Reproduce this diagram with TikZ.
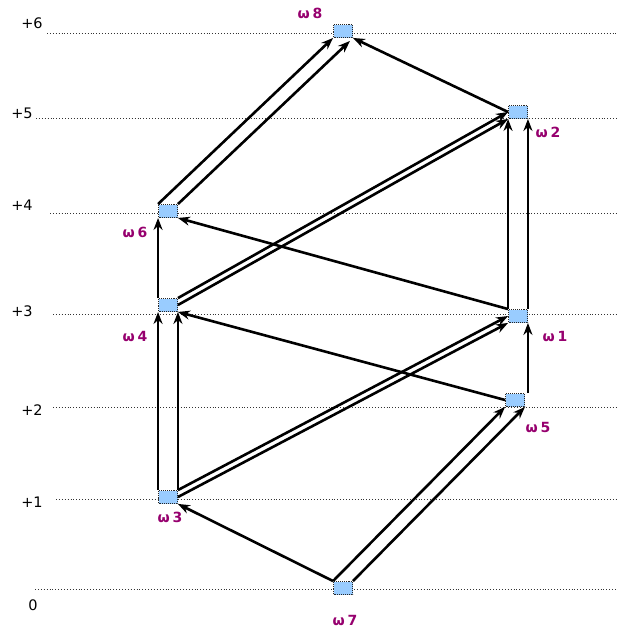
\documentclass[tikz,border=0pt]{standalone}
\usepackage{fontspec}
\setmainfont{DejaVu Sans}
\newfontfamily\omegafont{DejaVu Sans}
\usetikzlibrary{arrows.meta}
\definecolor{nodefill}{RGB}{153,204,255}
\definecolor{lblpurple}{RGB}{150,0,110}
\newcommand{\wl}[1]{ω\kern3pt#1}
\tikzset{
  state/.style={draw=black!85, densely dotted, line width=0.9pt, fill=nodefill, minimum width=19pt, minimum height=13pt, inner sep=0pt},
  level/.style={black!80, dotted, line width=0.9pt},
  levellbl/.style={font=\fontsize{14.5}{14.5}\selectfont, text=black, inner sep=0pt},
  wlbl/.style={font=\omegafont\bfseries\fontsize{14}{14}\selectfont, text=lblpurple, inner sep=0pt},
  arr/.style={line width=2.6pt, -{Stealth[length=12pt,width=9pt]}, black}
}
\begin{document}
\begin{tikzpicture}[x=1pt,y=-1pt]
\useasboundingbox (0,0) rectangle (619,629);
% level lines
\coordinate (l6a) at (47,33);  \coordinate (l6b) at (617,33);
\coordinate (l5a) at (36,118); \coordinate (l5b) at (617,118);
\coordinate (l4a) at (50,213); \coordinate (l4b) at (617,213);
\coordinate (l3a) at (53,314); \coordinate (l3b) at (617,314);
\coordinate (l2a) at (53,407); \coordinate (l2b) at (617,407);
\coordinate (l1a) at (56,499); \coordinate (l1b) at (617,499);
\coordinate (l0a) at (35,589); \coordinate (l0b) at (617,589);
\draw[level] (l6a) -- (l6b);
\draw[level] (l5a) -- (l5b);
\draw[level] (l4a) -- (l4b);
\draw[level] (l3a) -- (l3b);
\draw[level] (l2a) -- (l2b);
\draw[level] (l1a) -- (l1b);
\draw[level] (l0a) -- (l0b);
\node[levellbl] (t6) at (32,23) {+6};
\node[levellbl] (t5) at (22,113) {+5};
\node[levellbl] (t4) at (22,205) {+4};
\node[levellbl] (t3) at (22,311) {+3};
\node[levellbl] (t2) at (32,410) {+2};
\node[levellbl] (t1) at (32,502) {+1};
\node[levellbl] (t0) at (33,605) {0};
% states
\node[state] (w8) at (343,31) {};
\node[state] (w2) at (518,112) {};
\node[state] (w6) at (168,211) {};
\node[state] (w4) at (168,305) {};
\node[state] (w1) at (518,316) {};
\node[state] (w5) at (515,400) {};
\node[state] (w3) at (168,497) {};
\node[state] (w7) at (343,588) {};
% labels
\node[wlbl] (n8) at (310,13) {\wl{8}};
\node[wlbl] (n2) at (548,132) {\wl{2}};
\node[wlbl] (n6) at (135,232) {\wl{6}};
\node[wlbl] (n4) at (135,336) {\wl{4}};
\node[wlbl] (n1) at (555,336) {\wl{1}};
\node[wlbl] (n5) at (538,427) {\wl{5}};
\node[wlbl] (n3) at (170,517) {\wl{3}};
\node[wlbl] (n7) at (345,620) {\wl{7}};
% edges
\draw[arr] (w7.north west) -- (w3.south east);
\draw[arr] (w7.north west) -- (w5.south west);
\draw[arr] (w7.north east) -- (w5.south east);
\draw[arr] (w3.north west) -- (w4.south west);
\draw[arr] (w3.north east) -- (w4.south east);
\draw[arr] (w3.north east) -- (w1.west);
\draw[arr] (w3.east) -- (w1.south west);
\draw[arr] (w5.west) -- (w4.south east);
\draw[arr] (w1.south east |- w5.north east) -- (w1.south east);
\draw[arr] (w4.north west) -- (w6.south west);
\draw[arr] (w4.north east) -- (w2.west);
\draw[arr] (w4.east) -- (w2.south west);
\draw[arr] (w1.north west) -- (w6.south east);
\draw[arr] (w1.north west) -- (w2.south west);
\draw[arr] (w1.north east) -- (w2.south east);
\draw[arr] (w6.north west) -- (w8.south west);
\draw[arr] (w6.north east) -- ([xshift=-3pt,yshift=-3pt]w8.south east);
\draw[arr] (w2.west) -- (w8.south east);
\end{tikzpicture}
\end{document}
